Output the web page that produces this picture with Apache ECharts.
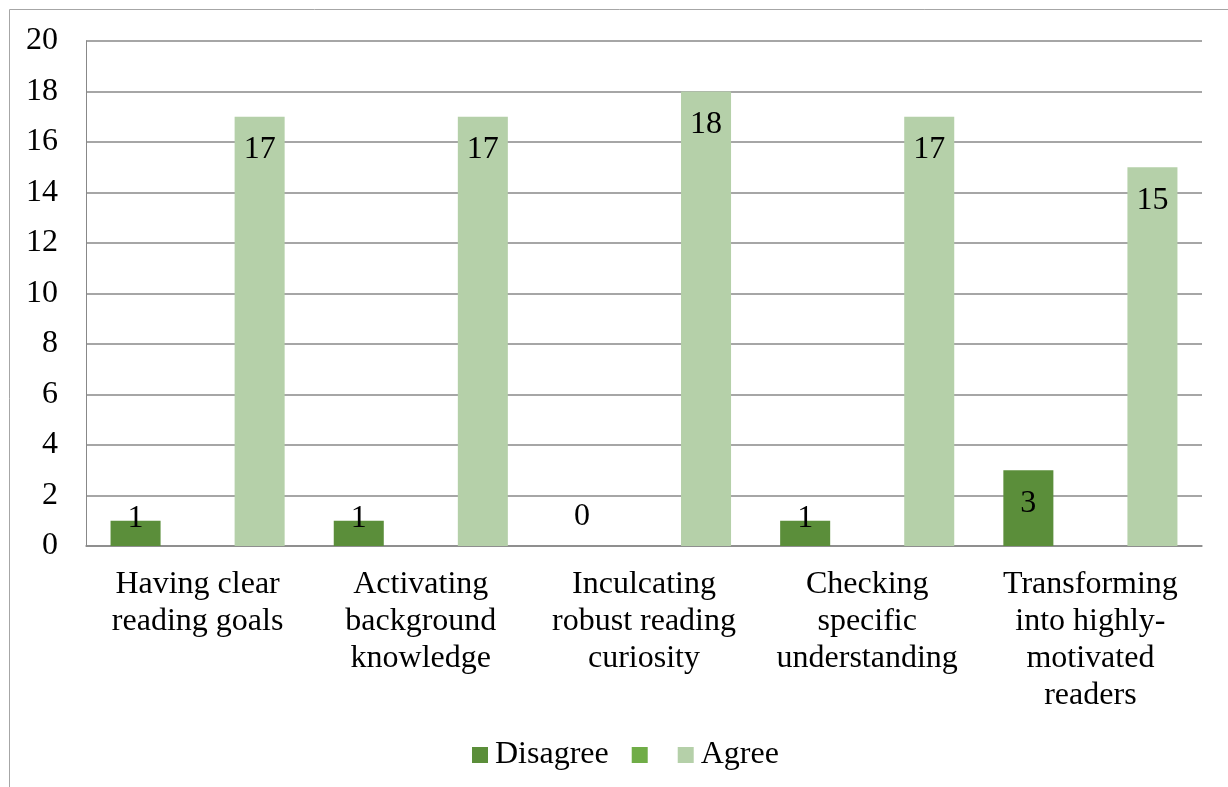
<!DOCTYPE html>
<html>
<head>
<meta charset="utf-8">
<script src="https://cdn.jsdelivr.net/npm/echarts@6/dist/echarts.min.js"></script>
<style>html,body{margin:0;padding:0;background:#fff}#c{width:1228px;height:787px}</style>
</head>
<body>
<div id="c"></div>
<script>
const categories = [
  "Having clear\nreading goals",
  "Activating\nbackground\nknowledge",
  "Inculcating\nrobust reading\ncuriosity",
  "Checking\nspecific\nunderstanding",
  "Transforming\ninto highly-\nmotivated\nreaders"
];
const seriesNames = ["Disagree", "\u200b", "Agree"];
const disagree = [1, 1, 0, 1, 3];
const middle = [0, 0, 0, 0, 0];
const agree = [17, 17, 18, 17, 15];
const yTicks = [0, 2, 4, 6, 8, 10, 12, 14, 16, 18, 20];

const FONT = "'Liberation Serif', 'Times New Roman', serif";
const FS = 32;
const baseLabel = {show: true, position: 'insideTop', distance: 17, fontFamily: FONT, fontSize: FS, color: '#000'};

function labelData(vals) {
  return vals.map(v => {
    if (v === 0) return {value: v, label: {position: 'top', distance: 13}};
    if (v === 1) return {value: v, label: {position: 'insideTop', distance: -18}};
    return v;
  });
}

const chart = echarts.init(document.getElementById('c'), null, {renderer: 'canvas'});
chart.setOption({
  animation: false,
  backgroundColor: '#fff',
  textStyle: {fontFamily: FONT},
  graphic: [{
    type: 'rect', shape: {x: 9.5, y: 9.5, width: 1400, height: 1000},
    style: {fill: 'none', stroke: '#a6a6a6', lineWidth: 1}, silent: true, z: -10
  }],
  grid: {left: 86, right: 26, top: 41, bottom: 241},
  legend: {
    left: 467, top: 734, itemWidth: 16, itemHeight: 16, itemGap: 23, itemStyle: {borderWidth: 0},
    textStyle: {fontFamily: FONT, fontSize: FS, color: '#000', padding: [0, 0, 0, 2]},
    data: seriesNames, icon: 'rect'
  },
  xAxis: {
    type: 'category', data: categories,
    axisLine: {lineStyle: {color: '#888', width: 1.5}},
    axisTick: {show: false},
    axisLabel: {fontFamily: FONT, fontSize: FS, color: '#000', lineHeight: 37, margin: 20, interval: 0}
  },
  yAxis: {
    type: 'value', min: 0, max: 20, interval: 2,
    axisLine: {show: true, lineStyle: {color: '#888', width: 1}},
    axisTick: {show: false},
    splitLine: {lineStyle: {color: '#888', width: 1.5}},
    axisLabel: {fontFamily: FONT, fontSize: FS, color: '#000', margin: 28,
      formatter: v => yTicks.includes(v) ? String(v) : ''}
  },
  series: [
    {name: seriesNames[0], type: 'bar', data: labelData(disagree), barGap: '24%', barCategoryGap: '22%',
     itemStyle: {color: '#5b8e3a'}, label: baseLabel},
    {name: seriesNames[1], type: 'bar', data: middle, itemStyle: {color: '#70ad47'}, label: {show: false}},
    {name: seriesNames[2], type: 'bar', data: labelData(agree), itemStyle: {color: '#b5d0a9'}, label: baseLabel}
  ]
});
</script>
</body>
</html>
